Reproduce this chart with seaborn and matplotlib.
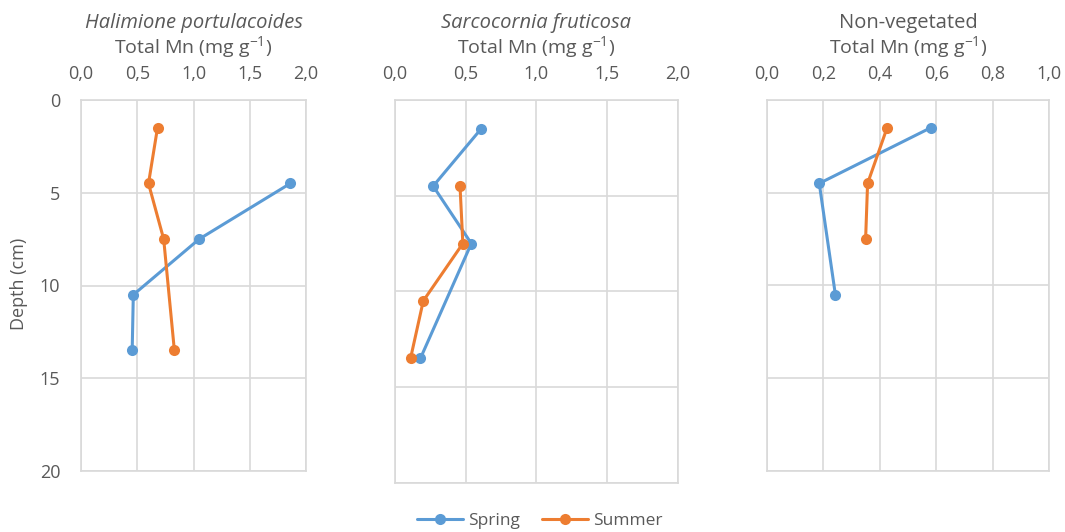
import numpy as np
import pandas as pd
import matplotlib
matplotlib.use("Agg")
import matplotlib.pyplot as plt
import seaborn as sns
from matplotlib.ticker import FixedLocator, FuncFormatter
from matplotlib.lines import Line2D

# ---- data ----
panel_titles = ["Halimione portulacoides", "Sarcocornia fruticosa", "Non-vegetated"]
panel_italic = [True, True, False]
x_label = "Total Mn (mg g$^{-1}$)"
y_label = "Depth (cm)"
seasons = ["Spring", "Summer"]

hal_spring_depth = [4.5, 7.5, 10.5, 13.5]
hal_spring_mn = [1.86, 1.05, 0.465, 0.455]
hal_summer_depth = [1.5, 4.5, 7.5, 13.5]
hal_summer_mn = [0.68, 0.60, 0.735, 0.83]

sar_spring_depth = [1.5, 4.5, 7.5, 13.5]
sar_spring_mn = [0.61, 0.27, 0.54, 0.18]
sar_summer_depth = [4.5, 7.5, 10.5, 13.5]
sar_summer_mn = [0.46, 0.48, 0.20, 0.11]

non_spring_depth = [1.5, 4.5, 10.5]
non_spring_mn = [0.58, 0.186, 0.243]
non_summer_depth = [1.5, 4.5, 7.5]
non_summer_mn = [0.426, 0.357, 0.35]

x_ticks_list = [[0, 0.5, 1.0, 1.5, 2.0], [0, 0.5, 1.0, 1.5, 2.0], [0, 0.2, 0.4, 0.6, 0.8, 1.0]]
y_ticks = [0, 5, 10, 15, 20]

# ---- style ----
sns.set_theme(style="white")
plt.rcParams['font.family'] = ['Open Sans', 'DejaVu Sans']
plt.rcParams['mathtext.default'] = 'regular'

colors = {"Spring": "#5B9BD5", "Summer": "#ED7D31"}
text_color = "#595959"
grid_color = "#D9D9D9"

fig = plt.figure(figsize=(10.65, 5.32), dpi=100)
W, H = 1065, 532
boxes = [(81, 306, 100, 471), (395, 677.7, 100, 482.7), (766.7, 1049.3, 100, 470.7)]

panels = [
    (hal_spring_depth, hal_spring_mn, hal_summer_depth, hal_summer_mn),
    (sar_spring_depth, sar_spring_mn, sar_summer_depth, sar_summer_mn),
    (non_spring_depth, non_spring_mn, non_summer_depth, non_summer_mn),
]

fmt = FuncFormatter(lambda v, p: f"{v:.1f}".replace(".", ","))

for i, (box, pdata) in enumerate(zip(boxes, panels)):
    l, r, t, b = box
    ax = fig.add_axes([l / W, 1 - b / H, (r - l) / W, (b - t) / H])
    sd, sm, ud, um = pdata
    df = pd.concat([
        pd.DataFrame({"depth": sd, "mn": sm, "season": "Spring"}),
        pd.DataFrame({"depth": ud, "mn": um, "season": "Summer"}),
    ])
    sns.lineplot(data=df, x="mn", y="depth", hue="season", palette=colors,
                 orient="y", estimator=None, marker="o", markersize=8,
                 markeredgewidth=0, linewidth=2.2, legend=False, ax=ax, zorder=3)
    xt = x_ticks_list[i]
    ax.set_xlim(xt[0], xt[-1])
    ax.set_ylim(20, 0)
    ax.xaxis.set_major_locator(FixedLocator(xt))
    ax.xaxis.set_major_formatter(fmt)
    ax.yaxis.set_major_locator(FixedLocator(y_ticks))
    ax.xaxis.tick_top()
    ax.tick_params(axis="x", length=0, pad=12, labelsize=13, colors=text_color)
    ax.tick_params(axis="y", length=0, pad=15, labelsize=13, colors=text_color)
    if i != 0:
        ax.tick_params(axis="y", labelleft=False)
    ax.grid(True, color=grid_color, linewidth=1.2)
    for s in ax.spines.values():
        s.set_color(grid_color)
        s.set_linewidth(1.2)
    ax.set_xlabel("")
    ax.set_ylabel("")
    cx = (l + r) / 2 / W
    fig.text(cx, 1 - 23 / H, panel_titles[i], ha="center", va="center",
             fontsize=14.5, color=text_color,
             style="italic" if panel_italic[i] else "normal")
    fig.text(cx, 1 - 47 / H, x_label, ha="center", va="center",
             fontsize=14, color=text_color)
    if i == 0:
        fig.text(19 / W, 1 - 284 / H, y_label, rotation=90, ha="center",
                 va="center", fontsize=13, color=text_color)

handles = [Line2D([0], [0], color=colors[s], marker="o", markersize=8,
                  markeredgewidth=0, linewidth=2.2) for s in seasons]
leg = fig.legend(handles, seasons, loc="center", bbox_to_anchor=(540 / W, 1 - 521 / H),
                 ncol=2, frameon=False, fontsize=12.5, handlelength=2.65,
                 columnspacing=1.25, handletextpad=0.3)
for txt in leg.get_texts():
    txt.set_color(text_color)

fig.savefig("out.png", dpi=100)
